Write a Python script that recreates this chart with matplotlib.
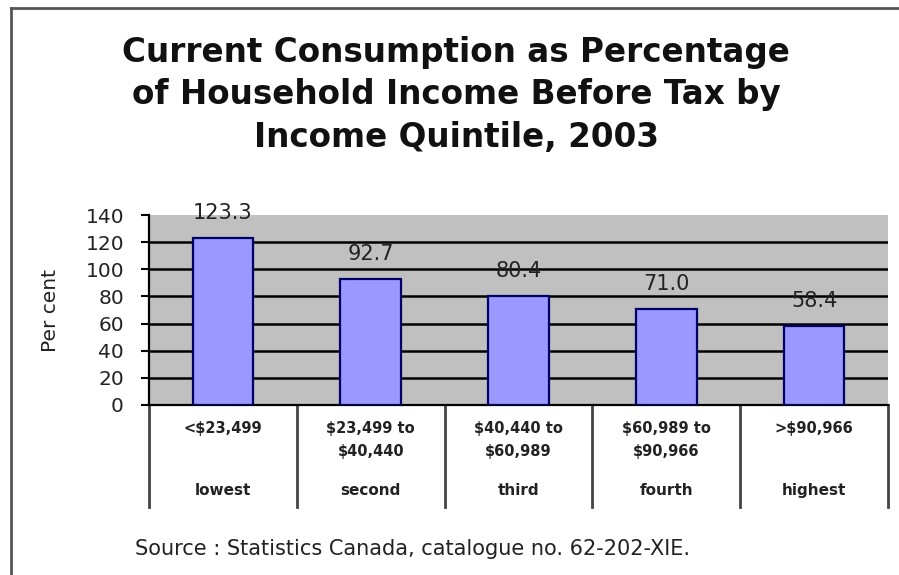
import matplotlib
matplotlib.use("Agg")
import matplotlib.pyplot as plt
from matplotlib.lines import Line2D
import matplotlib.transforms as mtransforms

# data
quintiles = ["lowest", "second", "third", "fourth", "highest"]
income_ranges = ["<$23,499", "$23,499 to\n$40,440", "$40,440 to\n$60,989",
                 "$60,989 to\n$90,966", ">$90,966"]
percent = [123.3, 92.7, 80.4, 71.0, 58.4]
y_ticks = [0, 20, 40, 60, 80, 100, 120, 140]

plt.rcParams['font.family'] = ['DejaVu Sans']

W, H = 899, 575
fig = plt.figure(figsize=(W / 100, H / 100), dpi=100)
fig.patch.set_facecolor("white")

# outer chart frame (left and top edges visible)
fig.add_artist(Line2D([11 / W, 11 / W], [0, 1 - 8 / H], color="#555555", lw=2))
fig.add_artist(Line2D([11 / W, 1], [1 - 8 / H, 1 - 8 / H], color="#555555", lw=2))

ax = fig.add_axes([149 / W, 1 - 405 / H, (888 - 149) / W, (405 - 215) / H])
ax.set_facecolor("#C0C0C0")

x = list(range(len(quintiles)))
bars = ax.bar(x, percent, width=0.41, color="#9999FF", edgecolor="#000066",
              linewidth=1.6, zorder=3)
ax.set_xlim(-0.5, len(quintiles) - 0.5)
ax.set_ylim(0, 140)
ax.set_yticks(y_ticks)
ax.set_yticklabels([str(t) for t in y_ticks], fontsize=14.5, color="#222222")
for t in y_ticks[1:-1]:
    ax.axhline(t, color="black", lw=1.8, zorder=2)

for b, v in zip(bars, percent):
    ax.annotate(f"{v:.1f}", (b.get_x() + b.get_width() / 2, v),
                xytext=(0, 18), textcoords="offset points", ha="center",
                va="center", fontsize=15, color="#222222", zorder=4)

for side in ["top", "right"]:
    ax.spines[side].set_visible(False)
ax.spines["left"].set_linewidth(1.6)
ax.spines["bottom"].set_linewidth(1.6)
ax.tick_params(axis="y", direction="out", length=6, width=1.5, pad=12)
ax.set_xticks([])
ax.set_ylabel("Per cent", fontsize=14.5, color="#222222", labelpad=18)

# category table under the axis
trans = mtransforms.blended_transform_factory(ax.transData, fig.transFigure)
for i in range(len(quintiles) + 1):
    xb = i - 0.5
    ax.plot([xb, xb], [1 - 405 / H, 1 - 507 / H], transform=trans,
            color="#444444", lw=2, clip_on=False)
for i, (rng, name) in enumerate(zip(income_ranges, quintiles)):
    ax.text(i, 1 - 421 / H, rng, transform=trans, ha="center", va="top",
            fontsize=10.5, fontweight="bold", color="#222222",
            linespacing=1.65)
    ax.text(i, 1 - 495 / H, name, transform=trans, ha="center",
            va="baseline", fontsize=11, fontweight="bold", color="#222222")

fig.text(456 / W, 1 - 95 / H,
         "Current Consumption as Percentage\nof Household Income Before Tax by\nIncome Quintile, 2003",
         ha="center", va="center", fontsize=23.5, fontweight="bold",
         linespacing=1.36, color="#111111")

fig.text(135 / W, 1 - 549 / H, "Source : Statistics Canada, catalogue no. 62-202-XIE.",
         ha="left", va="center", fontsize=15, color="#222222")

fig.savefig("out.png", dpi=100)
